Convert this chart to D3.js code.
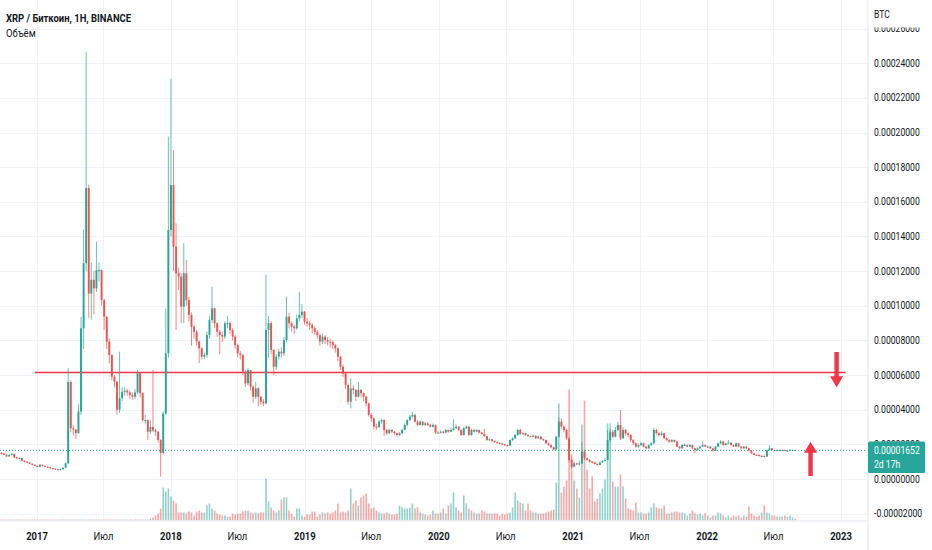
<!DOCTYPE html>
<html>
<head>
<meta charset="utf-8">
<script src="https://cdn.jsdelivr.net/npm/d3@7"></script>
<style>
  html, body { margin: 0; padding: 0; background: #fff; }
  svg { display: block; font-family: "Roboto", sans-serif; }
</style>
</head>
<body>
<svg id="chart" width="932" height="550"></svg>
<script>
// weekly XRP/BTC candles, prices in satoshi (1e-8 BTC), first candle = week of 26 Sep 2016
var firstWeek = Date.UTC(2016, 8, 26);
var firstOpen = 1500;

var closes = [
  1480,1400,1300,1390,1450,1250,1200,1210,1050,1000,
  950,880,820,760,700,820,760,700,680,620,
  600,560,540,560,650,900,5600,2930,2850,2650,
  3900,8700,12450,16800,10700,11500,11000,12060,12060,10330,
  9370,7930,7160,5910,5620,4000,4660,5040,5100,5000,
  4850,4750,5000,6100,4950,3400,3400,2730,3000,2800,
  2730,2250,1500,3790,7250,14370,16970,13410,11870,11680,
  9950,11870,10330,9470,8790,8500,7930,7540,7060,7160,
  8310,9180,9850,8990,8500,8310,8220,8990,9000,8600,
  8220,7730,7250,7160,6200,5520,6290,5330,4750,5230,
  4750,4460,4370,8600,9000,7450,6480,7060,7350,7250,
  8020,9370,8990,8790,8700,9270,9470,9660,9080,8990,
  8890,8700,8500,8310,7930,8220,8020,7930,7900,7730,
  7540,7060,6480,6100,5430,4460,5230,5140,4750,5140,
  4950,4750,4370,3700,3500,3020,3000,3310,3400,2830,
  2640,2830,2730,2640,2540,2640,2830,3120,3400,3600,
  3700,3310,3120,3310,3120,3210,3120,3020,3120,2680,
  2670,2730,2680,2830,2730,2830,2930,3020,2830,2540,
  2930,3020,2540,2830,2730,2830,2680,2600,2480,2250,
  2290,2200,2130,2080,2040,2000,1960,1930,2250,2350,
  2540,2830,2600,2640,2540,2480,2440,2500,2350,2450,
  2300,2250,2060,1960,1830,1700,2440,3310,3020,2830,
  2350,1100,710,900,850,900,1580,1190,1100,1000,
  960,870,810,960,1040,1100,2250,2730,2440,2830,
  3120,2350,2830,2630,2540,2250,2060,1870,1960,2060,
  1870,1770,1960,2060,2830,2640,2540,2640,2350,2250,
  2160,2250,2160,1870,1770,1960,1960,1870,1960,1770,
  1670,1770,1870,1960,1870,1870,1770,1640,1870,2060,
  2160,1960,2060,2100,1960,1870,2060,1870,1770,1870,
  1770,1640,1480,1390,1385,1330,1330,1290,1670,1770,
  1670,1640,1670,1640,1670,1640,1640,1670,1670,1652
];

var highs = [
  1560,1500,1420,1430,1500,1460,1290,1260,1230,1080,
  1030,970,900,840,780,860,830,770,730,700,
  640,620,580,590,680,960,6400,5700,3100,2900,
  4300,9350,14400,24660,17000,12500,12000,13700,12500,12100,
  10400,9400,8100,7200,6000,5650,7350,5300,5300,5200,
  5100,5000,5200,6300,6150,5000,3700,3450,3400,6290,
  2900,2750,2300,3900,9850,19760,23100,18990,14760,12200,
  11900,13600,12640,10500,9600,8900,8600,8000,7600,7300,
  8500,9400,11100,9900,9050,8600,8500,9100,9400,9100,
  8700,8300,7800,7400,7200,6300,6400,6300,5400,5600,
  5300,4800,4600,11800,9400,9100,7500,7200,7500,7600,
  8200,10520,9600,9100,8900,9500,10800,10100,9700,9300,
  9100,9000,8800,8600,8400,8400,8300,8200,8100,8000,
  7800,7600,7100,6600,6200,5500,5810,5400,5200,5600,
  5200,5000,4800,4400,3800,3550,3200,3400,3500,3450,
  2900,2900,2880,2780,2680,2700,2900,3200,3450,3700,
  3890,3750,3400,3380,3350,3300,3260,3200,3200,3150,
  2750,2800,2780,2880,2860,2950,3450,3150,3050,2860,
  3000,3100,3050,2900,2900,2880,2850,2720,2900,2500,
  2350,2320,2230,2160,2110,2070,2030,1990,2280,2400,
  2600,2900,2900,2700,2680,2580,2520,2560,2520,2500,
  2480,2340,2270,2100,1990,1860,2500,3550,3500,3100,
  2900,2400,1200,1000,950,1050,2150,1700,1250,1150,
  1050,1000,900,1000,1080,1200,2830,3210,2850,3000,
  3300,3980,3000,2900,2700,2600,2300,2100,2050,2150,
  2100,1900,2000,2150,2950,2900,2700,2750,2680,2400,
  2300,2300,2280,2200,1900,2000,2050,2000,2000,1990,
  1800,1820,1920,2160,1990,1920,1890,1800,1900,2100,
  2250,2200,2100,2250,2120,2000,2100,2080,1900,1900,
  1880,1800,1660,1500,1430,1420,1380,1360,1700,1960,
  1790,1700,1710,1700,1700,1690,1680,1710,1700,1690
];

var lows = [
  1420,1370,1280,1290,1370,1220,1160,1170,1020,960,
  920,850,790,730,670,690,730,680,650,600,
  580,540,520,520,550,640,880,2700,2500,2300,
  2600,3700,7500,12000,9300,9200,9500,10800,11400,10000,
  8600,7500,6680,5700,5300,3700,3800,4500,4800,4800,
  4600,4550,4600,4900,4700,3300,3200,2250,2600,2700,
  2500,2100,135,1400,3700,7000,14000,12000,8600,10900,
  9000,9000,10000,9100,7700,8100,7700,6700,6900,6900,
  7000,8100,9000,8700,8200,7200,7900,8100,8700,8400,
  8000,7500,7000,6900,6000,5300,5400,5100,4400,4600,
  4200,4300,4200,4300,7000,7200,6000,6300,6900,7000,
  7100,7900,8700,8500,8400,8600,9100,9300,8900,8800,
  8600,8400,8300,8100,7700,7800,7800,7700,7600,7500,
  7300,6800,6300,5900,5200,4300,4080,4900,4500,4700,
  4700,4500,4200,3600,3300,2850,2850,2950,3200,2480,
  2550,2600,2650,2550,2440,2500,2600,2800,3050,3350,
  3500,3250,3050,3080,3050,3080,3050,2980,2980,2600,
  2600,2620,2620,2650,2680,2700,2780,2900,2780,2480,
  2500,2880,2480,2500,2680,2700,2630,2550,2430,2200,
  2200,2150,2090,2040,2000,1960,1920,1880,1900,2200,
  2300,2500,2550,2550,2500,2440,2400,2400,2300,2320,
  2250,2200,2000,1920,1780,1650,1680,2400,2900,2700,
  2250,950,620,680,800,800,880,1100,1050,950,
  900,840,780,800,940,1000,1080,2100,2350,2400,
  2750,2250,2300,2500,2400,2150,1950,1800,1800,1900,
  1820,1720,1750,1920,2000,2550,2450,2500,2300,2180,
  2100,2100,2100,1820,1720,1750,1900,1830,1840,1720,
  1480,1640,1750,1850,1840,1820,1740,1600,1620,1850,
  2030,1920,1930,2030,1920,1840,1850,1840,1740,1750,
  1740,1600,1450,1360,1350,1300,1300,1250,1280,1650,
  1640,1610,1620,1610,1620,1610,1610,1620,1640,1630
];

var volumes = [
  1,1,1,1,1,1,1,1,1,1,
  1,1,1,1,1,1,1,1,1,1,
  1,1,1,1,1,1,1,1,1,1,
  1,1,1,1,1,1,1,1,1,1,
  1,1,1,1,1,1,1,1,1,1,
  1,1,1,1,1,1,1,1,2,3,
  5,7,12,33,29,32,24,20,17,8,
  8,8,7,9,8,5,9,10,8,8,
  15,17,12,10,7,6,5,5,4,4,
  7,6,7,7,9,10,10,8,7,8,
  7,8,8,42,19,13,10,8,10,21,
  23,23,10,7,4,12,12,5,4,6,
  6,9,9,4,6,8,7,8,7,8,
  10,17,8,9,8,10,32,17,20,15,
  23,25,27,17,12,13,10,8,7,7,
  8,7,6,6,7,15,13,12,12,13,
  17,12,13,8,7,6,5,6,10,7,
  7,8,12,7,15,17,28,13,10,8,
  25,17,12,10,8,7,7,10,9,7,
  7,7,7,7,5,7,6,7,8,13,
  28,20,18,17,10,17,10,8,8,7,
  7,7,8,9,10,11,38,117,28,34,
  40,131,66,40,32,23,96,120,51,32,
  44,19,22,27,32,41,97,92,39,34,
  34,46,34,22,12,11,10,18,8,8,
  7,7,8,13,17,13,12,12,15,7,
  7,8,9,9,8,8,7,5,7,10,
  7,6,7,5,7,5,3,5,5,8,
  7,5,3,5,3,5,4,5,3,5,
  4,14,7,5,4,5,8,15,8,7,
  5,5,4,4,4,5,4,5,3,2
];

var priceTicks = [-2000,0,2000,4000,6000,8000,10000,12000,14000,16000,18000,20000,22000,24000,26000];
var timeTicks = ['2017-01-01','2017-07-01','2018-01-01','2018-07-01','2019-01-01','2019-07-01',
  '2020-01-01','2020-07-01','2021-01-01','2021-07-01','2022-01-01','2022-07-01','2023-01-01'];
var timeLabels = ['2017','Июл','2018','Июл','2019','Июл','2020','Июл','2021','Июл','2022','Июл','2023'];

var titleText = 'XRP / Биткоин, 1H, BINANCE';
var volumeText = 'Объём';
var currencyText = 'BTC';
var lastPrice = 1652;
var countdownText = '2d 17h';

// hand-drawn level and arrows (date, price)
var level = { from: '2016-12-26', to: '2023-01-14', price: 6150 };
var downArrow = { date: '2022-12-20', top: 7330, tip: 5300 };
var upArrow = { date: '2022-10-10', bottom: 170, tip: 2150 };

var W = 932, H = 550;
var plotRight = 867.5, plotBottom = 520.5;
var upColor = '#26a69a', downColor = '#ef5350', drawColor = '#f23645';
var textColor = '#131722', gridColor = '#f0f3fa', borderColor = '#e0e3eb';
var narrow = 0.86; // the chart font is narrower than Roboto

var svg = d3.select('#chart');

var x = d3.scaleUtc()
  .domain([new Date('2017-01-01'), new Date('2023-01-01')])
  .range([37, 841]);
var y = d3.scaleLinear().domain([0, 24000]).range([479, 63.2]);
var v = d3.scaleLinear().domain([0, 131]).range([plotBottom, 389.5]);

var bars = closes.map(function(c, i) {
  return {
    date: d3.utcDay.offset(new Date(firstWeek), 7 * i),
    open: i === 0 ? firstOpen : closes[i - 1],
    high: highs[i],
    low: lows[i],
    close: c,
    volume: volumes[i]
  };
});

function condense(sel) {
  sel.each(function() {
    var w = this.getComputedTextLength();
    d3.select(this)
      .attr('textLength', w * narrow)
      .attr('lengthAdjust', 'spacingAndGlyphs');
  });
}

svg.append('rect').attr('width', W).attr('height', H).attr('fill', '#fff');

svg.append('clipPath').attr('id', 'plot-clip')
  .append('rect').attr('x', 0).attr('y', 0).attr('width', plotRight).attr('height', plotBottom);

var plot = svg.append('g').attr('clip-path', 'url(#plot-clip)');

// grid
plot.append('g').selectAll('line')
  .data(timeTicks)
  .enter().append('line')
  .attr('x1', function(d) { return Math.round(x(new Date(d))) + 0.5; })
  .attr('x2', function(d) { return Math.round(x(new Date(d))) + 0.5; })
  .attr('y1', 0).attr('y2', plotBottom)
  .attr('stroke', gridColor);

plot.append('g').selectAll('line')
  .data(priceTicks)
  .enter().append('line')
  .attr('x1', 0).attr('x2', plotRight)
  .attr('y1', function(d) { return Math.round(y(d)) + 0.5; })
  .attr('y2', function(d) { return Math.round(y(d)) + 0.5; })
  .attr('stroke', gridColor);

// volume
plot.append('g').selectAll('rect')
  .data(bars)
  .enter().append('rect')
  .attr('x', function(d) { return x(d.date) - 0.8; })
  .attr('width', 1.6)
  .attr('y', function(d) { return v(d.volume); })
  .attr('height', function(d) { return plotBottom - v(d.volume); })
  .attr('fill', function(d) { return d.close >= d.open ? upColor : downColor; })
  .attr('fill-opacity', 0.5);

// level line
plot.append('line')
  .attr('x1', x(new Date(level.from))).attr('x2', x(new Date(level.to)))
  .attr('y1', y(level.price)).attr('y2', y(level.price))
  .attr('stroke', drawColor).attr('stroke-width', 1.5);

// candles
var candles = plot.append('g').selectAll('g')
  .data(bars)
  .enter().append('g');

candles.append('line')
  .attr('x1', function(d) { return x(d.date); })
  .attr('x2', function(d) { return x(d.date); })
  .attr('y1', function(d) { return y(d.high); })
  .attr('y2', function(d) { return y(d.low); })
  .attr('stroke', function(d) { return d.close >= d.open ? upColor : downColor; })
  .attr('stroke-opacity', 0.7)
  .attr('stroke-width', 1);

candles.append('rect')
  .attr('x', function(d) { return x(d.date) - 0.95; })
  .attr('width', 1.9)
  .attr('y', function(d) { return y(Math.max(d.open, d.close)); })
  .attr('height', function(d) { return Math.max(1, Math.abs(y(d.open) - y(d.close))); })
  .attr('fill', function(d) { return d.close >= d.open ? upColor : downColor; });

// last price line
plot.append('line')
  .attr('x1', 0).attr('x2', plotRight)
  .attr('y1', y(lastPrice)).attr('y2', y(lastPrice))
  .attr('stroke', upColor).attr('stroke-width', 1)
  .attr('stroke-dasharray', '1,2');

// arrows
function arrow(cx, yTail, yTip) {
  var dir = yTip > yTail ? 1 : -1;
  var headLen = 11, headHalf = 6.5, shaftHalf = 2.2;
  var yBase = yTip - dir * headLen;
  var pts = [
    [cx - shaftHalf, yTail], [cx + shaftHalf, yTail],
    [cx + shaftHalf, yBase], [cx + headHalf, yBase],
    [cx, yTip], [cx - headHalf, yBase], [cx - shaftHalf, yBase]
  ];
  plot.append('path')
    .attr('d', d3.line()(pts) + 'Z')
    .attr('fill', drawColor);
}
arrow(x(new Date(downArrow.date)), y(downArrow.top), y(downArrow.tip));
arrow(x(new Date(upArrow.date)), y(upArrow.bottom), y(upArrow.tip));

// borders
svg.append('line')
  .attr('x1', plotRight + 0.5).attr('x2', plotRight + 0.5)
  .attr('y1', 0).attr('y2', H)
  .attr('stroke', borderColor);
svg.append('line')
  .attr('x1', 0).attr('x2', plotRight)
  .attr('y1', plotBottom + 0.5).attr('y2', plotBottom + 0.5)
  .attr('stroke', borderColor);

// price axis
svg.append('g').selectAll('text')
  .data(priceTicks)
  .enter().append('text')
  .attr('x', 874)
  .attr('y', function(d) { return y(d); })
  .attr('dy', '0.36em')
  .attr('font-size', 10)
  .attr('fill', textColor)
  .text(function(d) { return (d / 1e8).toFixed(8); })
  .call(condense);

svg.append('rect')
  .attr('x', plotRight + 1).attr('y', 0)
  .attr('width', W - plotRight - 1).attr('height', 27.5)
  .attr('fill', '#fff');
svg.append('text')
  .attr('x', 874).attr('y', 18)
  .attr('font-size', 10)
  .attr('fill', textColor)
  .text(currencyText)
  .call(condense);

// last price label
var ly = y(lastPrice);
svg.append('rect')
  .attr('x', plotRight + 0.5).attr('y', ly - 9)
  .attr('width', 57).attr('height', 31.5)
  .attr('rx', 1.5)
  .attr('fill', upColor);
svg.append('text')
  .attr('x', 874).attr('y', ly).attr('dy', '0.36em')
  .attr('font-size', 10).attr('fill', '#fff')
  .text((lastPrice / 1e8).toFixed(8))
  .call(condense);
svg.append('text')
  .attr('x', 874).attr('y', ly + 14).attr('dy', '0.36em')
  .attr('font-size', 10).attr('fill', '#fff')
  .text(countdownText)
  .call(condense);

// time axis
svg.append('g').selectAll('text')
  .data(timeTicks)
  .enter().append('text')
  .attr('x', function(d) { return x(new Date(d)); })
  .attr('y', 540)
  .attr('text-anchor', 'middle')
  .attr('font-size', 11)
  .attr('font-weight', function(d, i) { return timeLabels[i] === 'Июл' ? 'normal' : 'bold'; })
  .attr('fill', textColor)
  .text(function(d, i) { return timeLabels[i]; })
  .call(condense);

// legend
svg.append('text')
  .attr('x', 6).attr('y', 22)
  .attr('font-size', 11).attr('font-weight', 'bold')
  .attr('fill', textColor)
  .text(titleText)
  .call(condense);
svg.append('text')
  .attr('x', 6).attr('y', 37)
  .attr('font-size', 11)
  .attr('fill', textColor)
  .text(volumeText)
  .call(condense);
</script>
</body>
</html>
